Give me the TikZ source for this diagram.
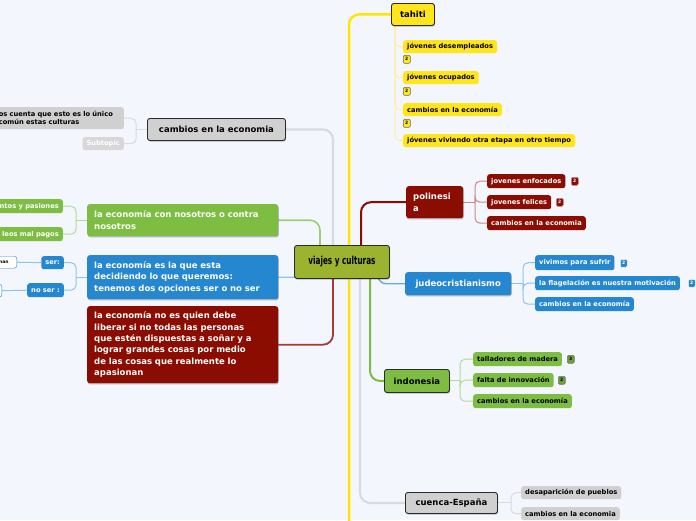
\documentclass[tikz,border=0pt]{standalone}
\usepackage{fontspec}
\setmainfont{DejaVu Sans}
\newfontfamily\condfont{DejaVu Sans}[FakeStretch=0.66]
\usetikzlibrary{shadows,backgrounds}
\definecolor{bg}{HTML}{F3F6FD}
\definecolor{yel}{HTML}{FFE51A}
\definecolor{yelline}{HTML}{FFE600}
\definecolor{yelsub}{HTML}{FFEFA0}
\definecolor{dred}{HTML}{8B0C00}
\definecolor{redsub}{HTML}{C98A85}
\definecolor{blu}{HTML}{2587CF}
\definecolor{blusub}{HTML}{8EC3EA}
\definecolor{grn}{HTML}{7CBD42}
\definecolor{grnsub}{HTML}{B5DA95}
\definecolor{olive}{HTML}{9BB32E}
\definecolor{gry}{HTML}{D0D0D0}
\definecolor{grysub}{HTML}{D8DAE0}
\definecolor{edge}{HTML}{2B2B2B}
\tikzset{
  base/.style={rounded corners=2.5pt, inner ysep=0pt, inner xsep=4pt, anchor=north west, align=center},
  mainf/.style={font=\fontsize{8.5}{11.3}\selectfont\bfseries},
  subf/.style={font=\fontsize{6.7}{8.2}\selectfont\bfseries},
  shad/.style={drop shadow={shadow xshift=0.6pt, shadow yshift=-1.2pt, opacity=0.25, fill=black}},
  topicB/.style={base, mainf, draw=edge, line width=0.9pt, shad},
  bigL/.style={base, mainf, shad, text=white, align=left, inner xsep=7pt},
  yelS/.style={base, subf, fill=yel, text=black, minimum height=13pt},
  redS/.style={base, subf, fill=dred, text=white, minimum height=14pt},
  bluS/.style={base, subf, fill=blu, text=white, minimum height=14pt},
  grnS/.style={base, subf, fill=grn, text=black, minimum height=14pt},
  gryS/.style={base, subf, fill=gry, text=black, minimum height=13pt},
  badge/.style={rounded corners=1.2pt, anchor=north west, inner sep=0pt, minimum width=7pt, minimum height=8pt, font=\fontsize{4.5}{5}\selectfont\bfseries, line width=0.5pt},
  mainline/.style={line width=2pt, rounded corners=10pt},
  subline/.style={line width=1pt, rounded corners=5pt},
}
\begin{document}
\begin{tikzpicture}[x=1pt,y=-1pt]
\useasboundingbox (0,0) rectangle (696,520);
% central
\node[topicB, fill=olive, minimum width=95pt, minimum height=33pt, font=\condfont\fontsize{11}{13}\selectfont\bfseries] (c) at (294,245) {viajes y culturas};
% right topics
\node[topicB, fill=yel, minimum width=43pt, minimum height=22pt] (tahiti) at (391,3) {tahiti};
\node[bigL, fill=dred, text width=43pt, minimum height=32pt] (poly) at (406,186) {polinesi\\a};
\node[base, mainf, shad, fill=blu, text=white, minimum width=106pt, minimum height=23pt] (judeo) at (405,272) {judeocristianismo};
\node[topicB, fill=grn, minimum width=65pt, minimum height=23pt] (indo) at (384,369) {indonesia};
\node[topicB, fill=gry, minimum width=92pt, minimum height=21pt] (cuenca) at (405,492) {cuenca-España};
% left topics
\node[topicB, fill=gry, minimum width=138pt, minimum height=22pt] (camb) at (147,118) {cambios en la economia};
\node[bigL, fill=grn, text width=177pt, minimum height=32pt] (gnode) at (87,204) {la economía con nosotros o contra\\nosotros};
\node[bigL, fill=blu, text width=177pt, minimum height=44pt] (bnode) at (87,255) {la economía es la que esta\\decidiendo lo que queremos:\\tenemos dos opciones ser o no ser};
\node[bigL, fill=dred, text width=177pt, minimum height=77pt] (rnode) at (87,306) {la economía no es quien debe\\liberar si no todas las personas\\que estén dispuestas a soñar y a\\lograr grandes cosas por medio\\de las cosas que realmente lo\\apasionan};
% tahiti children
\node[yelS] (t1) at (403,40) {jóvenes desempleados};
\node[badge, fill=yel, draw=black!60] (t1b) at (403,55) {2};
\node[yelS] (t2) at (403,71) {jóvenes ocupados};
\node[badge, fill=yel, draw=black!60] (t2b) at (403,87) {2};
\node[yelS] (t3) at (403,103) {cambios en la economía};
\node[badge, fill=yel, draw=black!60] (t3b) at (403,119) {2};
\node[yelS] (t4) at (403,134) {jóvenes viviendo otra etapa en otro tiempo};
% polinesia children
\node[redS] (p1) at (487,174) {jovenes enfocados};
\node[badge, fill=dred, draw=redsub, text=white] (p1b) at (571,177) {2};
\node[redS] (p2) at (487,195) {jovenes felices};
\node[badge, fill=dred, draw=redsub, text=white] (p2b) at (556,198) {2};
\node[redS] (p3) at (487,216) {cambios en la economia};
% judeo children
\node[bluS, minimum height=15pt] (j1) at (535,255) {vivimos para sufrir};
\node[badge, fill=blu, draw=white, text=white] (j1b) at (620,259) {2};
\node[bluS] (j2) at (535,276) {la flagelación es nuestra motivación};
\node[badge, fill=blu, draw=white, text=white] (j2b) at (688,279) {2};
\node[bluS] (j3) at (535,297) {cambios en la economía};
% indonesia children
\node[grnS] (i1) at (473,352) {talladores de madera};
\node[badge, fill=grn!85!black, draw=black!55] (i1b) at (567,355) {3};
\node[grnS] (i2) at (473,373) {falta de innovación};
\node[badge, fill=grn!85!black, draw=black!55] (i2b) at (558,376) {2};
\node[grnS] (i3) at (473,394) {cambios en la economía};
% cuenca children
\node[gryS] (e1) at (521,486) {desaparición de pueblos};
\node[gryS] (e2) at (521,507) {cambios en la economia};
% left gray children
\node[base, subf, fill=gry, align=left, anchor=north east, text width=124pt, inner xsep=1pt, minimum height=22pt] (l1) at (124,107) {os cuenta que esto es lo único\\ común estas culturas};
\node[base, subf, fill=gry!85, text=white, anchor=north east, minimum height=13pt] (l2) at (124,137) {Subtopic};
% left green children
\node[base, subf, fill=grn, text=white, anchor=north east, minimum height=14pt] (g1) at (63,199) {ntos y pasiones};
\node[base, subf, fill=grn, text=white, anchor=north east, minimum height=14pt] (g2) at (63,227) {leos mal pagos};
% left blue children
\node[base, subf, fill=blu, text=white, anchor=north east, minimum height=13pt] (s1) at (64,256) {ser:};
\node[base, subf, fill=blu, text=white, anchor=north east, minimum height=14pt] (s2) at (64,283) {no ser :};
\node[base, draw=blu, fill=white, anchor=north east, minimum height=12pt, minimum width=26pt, inner xsep=3pt, align=right, font=\fontsize{4.5}{5}\selectfont\bfseries] (s1a) at (17,256) {\hfill nan};
\node[base, draw=blu, fill=white, anchor=north east, minimum height=13pt, minimum width=20pt] (s2a) at (2,284) {};
% junction coordinates
\coordinate (ybot) at (349,530);
\coordinate (jl) at (333,0);
\coordinate (jg) at (320,0);
\coordinate (jrr) at (361,0);
\coordinate (jgr) at (360,0);
\coordinate (jb) at (378,0);
\coordinate (jir) at (370,0);
\coordinate (tj) at (395,25);
\coordinate (pj) at (475,0);
\coordinate (jj) at (523,0);
\coordinate (ij) at (460,0);
\coordinate (ej) at (511,0);
\coordinate (lj) at (136,0);
\coordinate (gj) at (76,0);
\coordinate (bj) at (76,0);
\begin{scope}[on background layer]
\fill[bg] (0,0) rectangle (696,520);
% main connectors
\draw[mainline, grysub, line width=2.2pt] (c.center -| jgr) |- (cuenca.west);
\draw[mainline, grysub, line width=2.2pt] (c.center -| jl) |- (camb.east);
\draw[mainline, yelline, line width=2.5pt] (ybot) |- (tahiti.west);
\draw[mainline, dred] (c.center -| jrr) |- (poly.west);
\draw[mainline, grn] (c.center -| jir) |- (indo.west);
\draw[mainline, blu!70, line width=1.4pt, rounded corners=8pt] (c.center -| jb) |- (judeo.west);
\draw[mainline, grn!75, line width=1.6pt] (c.center -| jg) |- (gnode.east);
\draw[mainline, blusub, line width=1.4pt] (c.center) |- (bnode.east);
\draw[mainline, dred!80, line width=1.8pt] (c.center -| jl) |- (rnode.east);
% sub connectors
\foreach \n in {t1,t2,t3,t4} \draw[subline, yelsub] (tj) |- (\n.west);
\draw[subline, redsub] (poly.east) -- (poly.east -| pj);
\foreach \n in {p1,p2,p3} \draw[subline, redsub] (poly.east -| pj) |- (\n.west);
\draw[subline, blusub] (judeo.east) -- (judeo.east -| jj);
\foreach \n in {j1,j2,j3} \draw[subline, blusub] (judeo.east -| jj) |- (\n.west);
\draw[subline, grnsub] (indo.east) -- (indo.east -| ij);
\foreach \n in {i1,i2,i3} \draw[subline, grnsub] (indo.east -| ij) |- (\n.west);
\draw[subline, grysub] (cuenca.east) -- (cuenca.east -| ej);
\foreach \n in {e1,e2} \draw[subline, grysub] (cuenca.east -| ej) |- (\n.west);
\draw[subline, grysub] (camb.west) -- (camb.west -| lj);
\foreach \n in {l1,l2} \draw[subline, grysub] (camb.west -| lj) |- (\n.east);
\draw[subline, grnsub] (gnode.west) -- (gnode.west -| gj);
\foreach \n in {g1,g2} \draw[subline, grnsub] (gnode.west -| gj) |- (\n.east);
\draw[subline, blusub] (bnode.west) -- (bnode.west -| bj);
\foreach \n in {s1,s2} \draw[subline, blusub] (bnode.west -| bj) |- (\n.east);
\draw[subline, blusub] (s1.west) -- (s1a.east);
\draw[subline, blusub] (s2.west) -- (s2a.east);
\end{scope}
\end{tikzpicture}
\end{document}
